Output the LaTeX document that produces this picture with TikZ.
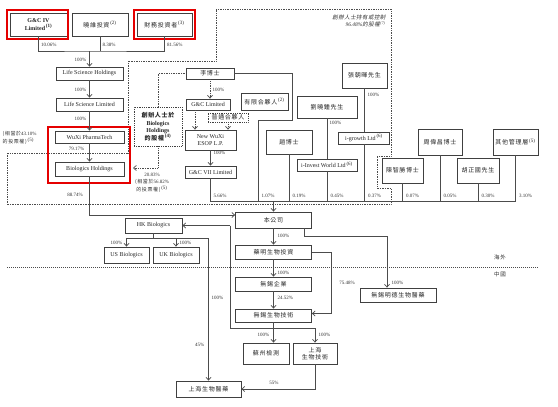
\documentclass[tikz,border=0pt]{standalone}
\usepackage{fontspec}
\setmainfont{Liberation Serif}
\newfontfamily\cjk[LetterSpace=12]{Noto Sans CJK TC}
\newfontfamily\cjkit[LetterSpace=8,FakeSlant=0.2]{Noto Sans CJK TC}
\usetikzlibrary{arrows.meta}
\newcommand\zh[1]{{\cjk #1}}
\newcommand\fn[1]{\textsuperscript{\,(#1)}}
\tikzset{
  sh box/.style={
    rectangle,
    draw=black!75,
    line width=0.8pt,
    fill=white,
    inner sep=1pt,
    align=center,
    text=black!85,
    font=\fontsize{6}{7.5}\selectfont,
  },
  sh dotbox/.style={sh box, densely dotted},
  sz/.style 2 args={minimum width=#1pt, minimum height=#2pt},
  sh line/.style={draw=black!70, line width=0.7pt},
  sh arrow/.style={sh line, -{Straight Barb[length=2.8pt,width=5pt]}},
  sh dot/.style={sh line, densely dotted},
  sh dotarrow/.style={sh arrow, densely dotted},
  sh pct/.style={font=\fontsize{5}{7.5}\selectfont, inner sep=0.5pt, text=black!80},
  sh red/.style={draw=red!90!black, line width=1.8pt},
}
\begin{document}
\begin{tikzpicture}[x=1pt, y=-1pt]
  \useasboundingbox (0,0) rectangle (558,407);

  \draw[sh dot] (7,153) -- (7,204.5) -- (391,204.5) -- (391,188) -- (377,188) -- (377,156)
    -- (391,156) -- (391,9) -- (216,9) -- (216,61) -- (128,61) -- (128,153) -- cycle;
  \node[anchor=north east, align=right, text=black!80, font=\fontsize{5.5}{7}\selectfont\itshape] (fndtxt) at (389,11)
    {{\cjkit 創辦人士持有或控制}\\96.48\%{\cjkit 的股權}\fn{7}};

  \node[sh box, sz={57}{23}, font=\fontsize{6}{7.5}\selectfont\bfseries] (gc4) at (38.5,24.5) {G\&C IV\\Limited\fn{1}};
  \node[sh box, sz={56}{23}] (xw) at (100,24.5) {\zh{曉維投資}\fn{2}};
  \node[sh box, sz={55}{23}] (fin) at (164.5,24.5) {\zh{財務投資者}\fn{3}};
  \node[sh box, sz={67}{13}] (lsh) at (89.5,73.5) {Life Science Holdings};
  \node[sh box, sz={67}{13}] (lsl) at (89.5,104.5) {Life Science Limited};
  \node[sh box, sz={69}{12}] (wpt) at (89.5,137) {WuXi PharmaTech};
  \node[sh box, sz={69}{14}] (bh) at (89.5,169) {Biologics Holdings};

  \node[sh dotbox, sz={48}{39}, font=\fontsize{6}{7.5}\selectfont\bfseries] (fnd) at (158,126.5)
    {\zh{創辦人士於}\\Biologics\\Holdings\\\zh{的股權}\fn{4}};
  \node[sh box, sz={48}{11}] (lee) at (210,73.5) {\zh{李博士}};
  \node[sh box, sz={44}{11}] (gcl) at (208,104.5) {G\&C Limited};
  \node[sh dotbox, sz={40}{9}, inner sep=0.5pt] (gp) at (228,117.5) {\zh{普通合夥人}};
  \node[sh box, sz={51}{20}] (nwe) at (210.5,140) {New WuXi\\ESOP L.P.};
  \node[sh box, sz={51}{12}] (gc7) at (210.5,172) {G\&C VII Limited};
  \node[sh box, sz={47}{17}] (lp) at (264.5,101.5) {\zh{有限合夥人}\fn{2}};
  \node[sh box, sz={46}{24}] (zhao) at (289,142) {\zh{趙博士}};
  \node[sh box, sz={60}{22}] (liu) at (327,107) {\zh{劉曉鍾先生}};
  \node[sh box, sz={60}{12}] (iiw) at (327,165) {i-Invest World Ltd\fn{6}};
  \node[sh box, sz={45}{25}] (zhang) at (364.5,75.5) {\zh{張朝暉先生}};
  \node[sh box, sz={51}{12}] (igr) at (364,138) {i-growth Ltd\fn{6}};
  \node[sh box, sz={41}{25}] (chen) at (402.5,170.5) {\zh{陳智勝博士}};
  \node[sh box, sz={44}{26}] (zhou) at (440,142) {\zh{周偉昌博士}};
  \node[sh box, sz={42}{25}] (hu) at (478,170.5) {\zh{胡正國先生}};
  \node[sh box, sz={45}{26}] (oth) at (515.5,142) {\zh{其他管理層}\fn{5}};

  \node[sh box, sz={76}{16}] (co) at (273.5,220) {\zh{本公司}};
  \node[sh box, sz={76}{14}] (inv) at (273.5,252) {\zh{藥明生物投資}};
  \node[sh box, sz={76}{14}] (wxe) at (273.5,284) {\zh{無錫企業}};
  \node[sh box, sz={76}{13}] (wxb) at (273.5,315.5) {\zh{無錫生物技術}};
  \node[sh box, sz={46}{21}] (szt) at (266,353.5) {\zh{蘇州檢測}};
  \node[sh box, sz={44}{21}] (shb) at (315,353.5) {\zh{上海}\\\zh{生物技術}};
  \node[sh box, sz={65}{16}] (shp) at (208.5,389) {\zh{上海生物醫藥}};
  \node[sh box, sz={76}{14}] (md) at (398,295) {\zh{無錫明德生物醫藥}};
  \node[sh box, sz={57}{15}] (hk) at (153.5,225.5) {HK Biologics};
  \node[sh box, sz={45}{16}] (us) at (126.5,255) {US Biologics};
  \node[sh box, sz={46}{16}] (uk) at (176,255) {UK Biologics};

  \draw[sh red] (7,10) rectangle (68,39);
  \draw[sh red] (134,10) rectangle (195,39);
  \draw[sh red] (48,127) rectangle (130,183);

  \coordinate (topj) at (89.5,51);
  \draw[sh line] (gc4.south) |- (topj) -| (fin.south);
  \draw[sh line] (xw.south) -- (xw.south |- topj);
  \draw[sh arrow] (topj) -- (lsh.north);
  \node[sh pct, anchor=west] at (40.5,45) {10.06\%};
  \node[sh pct, anchor=west] at (102,45) {8.38\%};
  \node[sh pct, anchor=west] at (166.5,45) {81.56\%};
  \node[sh pct, anchor=east] at (87,60) {100\%};

  \draw[sh arrow] (lsh) -- (lsl);
  \node[sh pct, anchor=east] at (87,90) {100\%};
  \draw[sh arrow] (lsl) -- (wpt);
  \node[sh pct, anchor=east] at (87,119) {100\%};
  \draw[sh arrow] (wpt) -- (bh);
  \node[sh pct, anchor=east] at (85,149) {79.17\%};
  \node[sh pct, anchor=north west, align=left] at (2,131) {\zh{(相當於}43.10\%\\\zh{的投票權)}\fn{5}};

  \draw[sh arrow] (bh.south) |- ([yshift=5pt]co.west);
  \node[sh pct] at (75,195) {88.74\%};

  \draw[sh dot] (fnd.north) |- (lee.west);
  \coordinate (bhv) at (133,168);
  \draw[sh dotarrow] (fnd.south) |- (bhv);
  \node[sh pct, align=center] at (152,182.5) {20.83\%\\\zh{(相當於}56.82\%\\\zh{的投票權)}\fn{5}};

  \draw[sh dotarrow] (lee.south) -- (lee.south |- gcl.north);
  \node[sh pct, anchor=west] at (212,90) {100\%};
  \draw[sh dotarrow] ([xshift=-13pt]gcl.south) -- ([xshift=-13pt]gcl.south |- nwe.north);
  \draw[sh dotarrow] (gp.south) -- (gp.south |- nwe.north);
  \draw[sh arrow] (nwe) -- (gc7);
  \node[sh pct, anchor=west] at (213,153) {100\%};

  \coordinate (hold) at (0,201.5);
  \coordinate (leebend) at (292,120);
  \coordinate (leefoot) at (258,201.5);
  \draw[sh line] (gc7.south) |- (oth.south |- hold) -- (oth.south);
  \foreach \n in {zhao,iiw,igr,chen,zhou,hu}
    \draw[sh line] (\n.south) -- (\n.south |- hold);
  \draw[sh line] (lee.east) -| (leebend) -| (leefoot);
  \draw[sh line] (liu) -- (iiw);
  \node[sh pct, anchor=west] at (329,123) {100\%};
  \draw[sh line] (zhang.south) -- (zhang.south |- igr.north);
  \node[sh pct, anchor=west] at (367,95) {100\%};
  \node[sh pct, anchor=west] at (213,196) {5.66\%};
  \node[sh pct, anchor=west] at (261,196) {1.07\%};
  \node[sh pct, anchor=west] at (292,196) {0.19\%};
  \node[sh pct, anchor=west] at (330,196) {0.45\%};
  \node[sh pct, anchor=west] at (367.5,196) {0.37\%};
  \node[sh pct, anchor=west] at (405.5,196) {0.07\%};
  \node[sh pct, anchor=west] at (443,196) {0.05\%};
  \node[sh pct, anchor=west] at (481,196) {0.30\%};
  \node[sh pct, anchor=west] at (518.5,196) {3.10\%};
  \draw[sh arrow] (co.north |- hold) -- (co.north);

  \draw[sh arrow] (co) -- (inv);
  \node[sh pct, anchor=west] at (277,236) {100\%};
  \draw[sh arrow] ([xshift=31pt]co.south) -- ++(0,8) -| ([xshift=-11pt]md.north);
  \node[sh pct, anchor=west] at (391,283) {100\%};
  \draw[sh arrow] (inv.east) -- ++(19,0) |- ([yshift=2pt]wxb.east);
  \node[sh pct] at (347,283) {75.48\%};
  \draw[sh arrow] (inv) -- (wxe);
  \node[sh pct, anchor=west] at (277,273) {100\%};
  \draw[sh arrow] (wxe) -- (wxb);
  \node[sh pct, anchor=west] at (277,298) {24.52\%};
  \draw[sh arrow] (wxb.south) -- (wxb.south |- szt.north);
  \node[sh pct, anchor=east] at (270,335) {100\%};

  \coordinate (hkj) at (230,225.5);
  \draw[sh arrow] (hkj) -- (hk.east);
  \draw[sh arrow] (hkj) -- ++(0,102.5) -| (shb.north);
  \node[sh pct, anchor=west] at (318,335) {100\%};
  \draw[sh arrow] (shb.south) |- (shp.east);
  \node[sh pct] at (274,383) {55\%};

  \coordinate (hkb) at (153.5,238.5);
  \draw[sh line] (hk.south) -- (hkb);
  \draw[sh arrow] (hkb) -| (us.north);
  \draw[sh arrow] (hkb) -| (uk.north);
  \draw[sh arrow] (hkb) -| (shp.north);
  \node[sh pct, anchor=east] at (123,243) {100\%};
  \node[sh pct, anchor=west] at (179,243) {100\%};
  \node[sh pct, anchor=west] at (211,298) {100\%};
  \node[sh pct, anchor=east] at (205,345) {45\%};

  \draw[sh line, dash pattern=on 1.2pt off 0.8pt] (7,267) -- (538,267);
  \node[sh pct, font=\fontsize{5.5}{7}\selectfont] (ovs) at (500,257) {\zh{海外}};
  \node[sh pct, font=\fontsize{5.5}{7}\selectfont] (prc) at (500,274) {\zh{中國}};
\end{tikzpicture}
\end{document}
